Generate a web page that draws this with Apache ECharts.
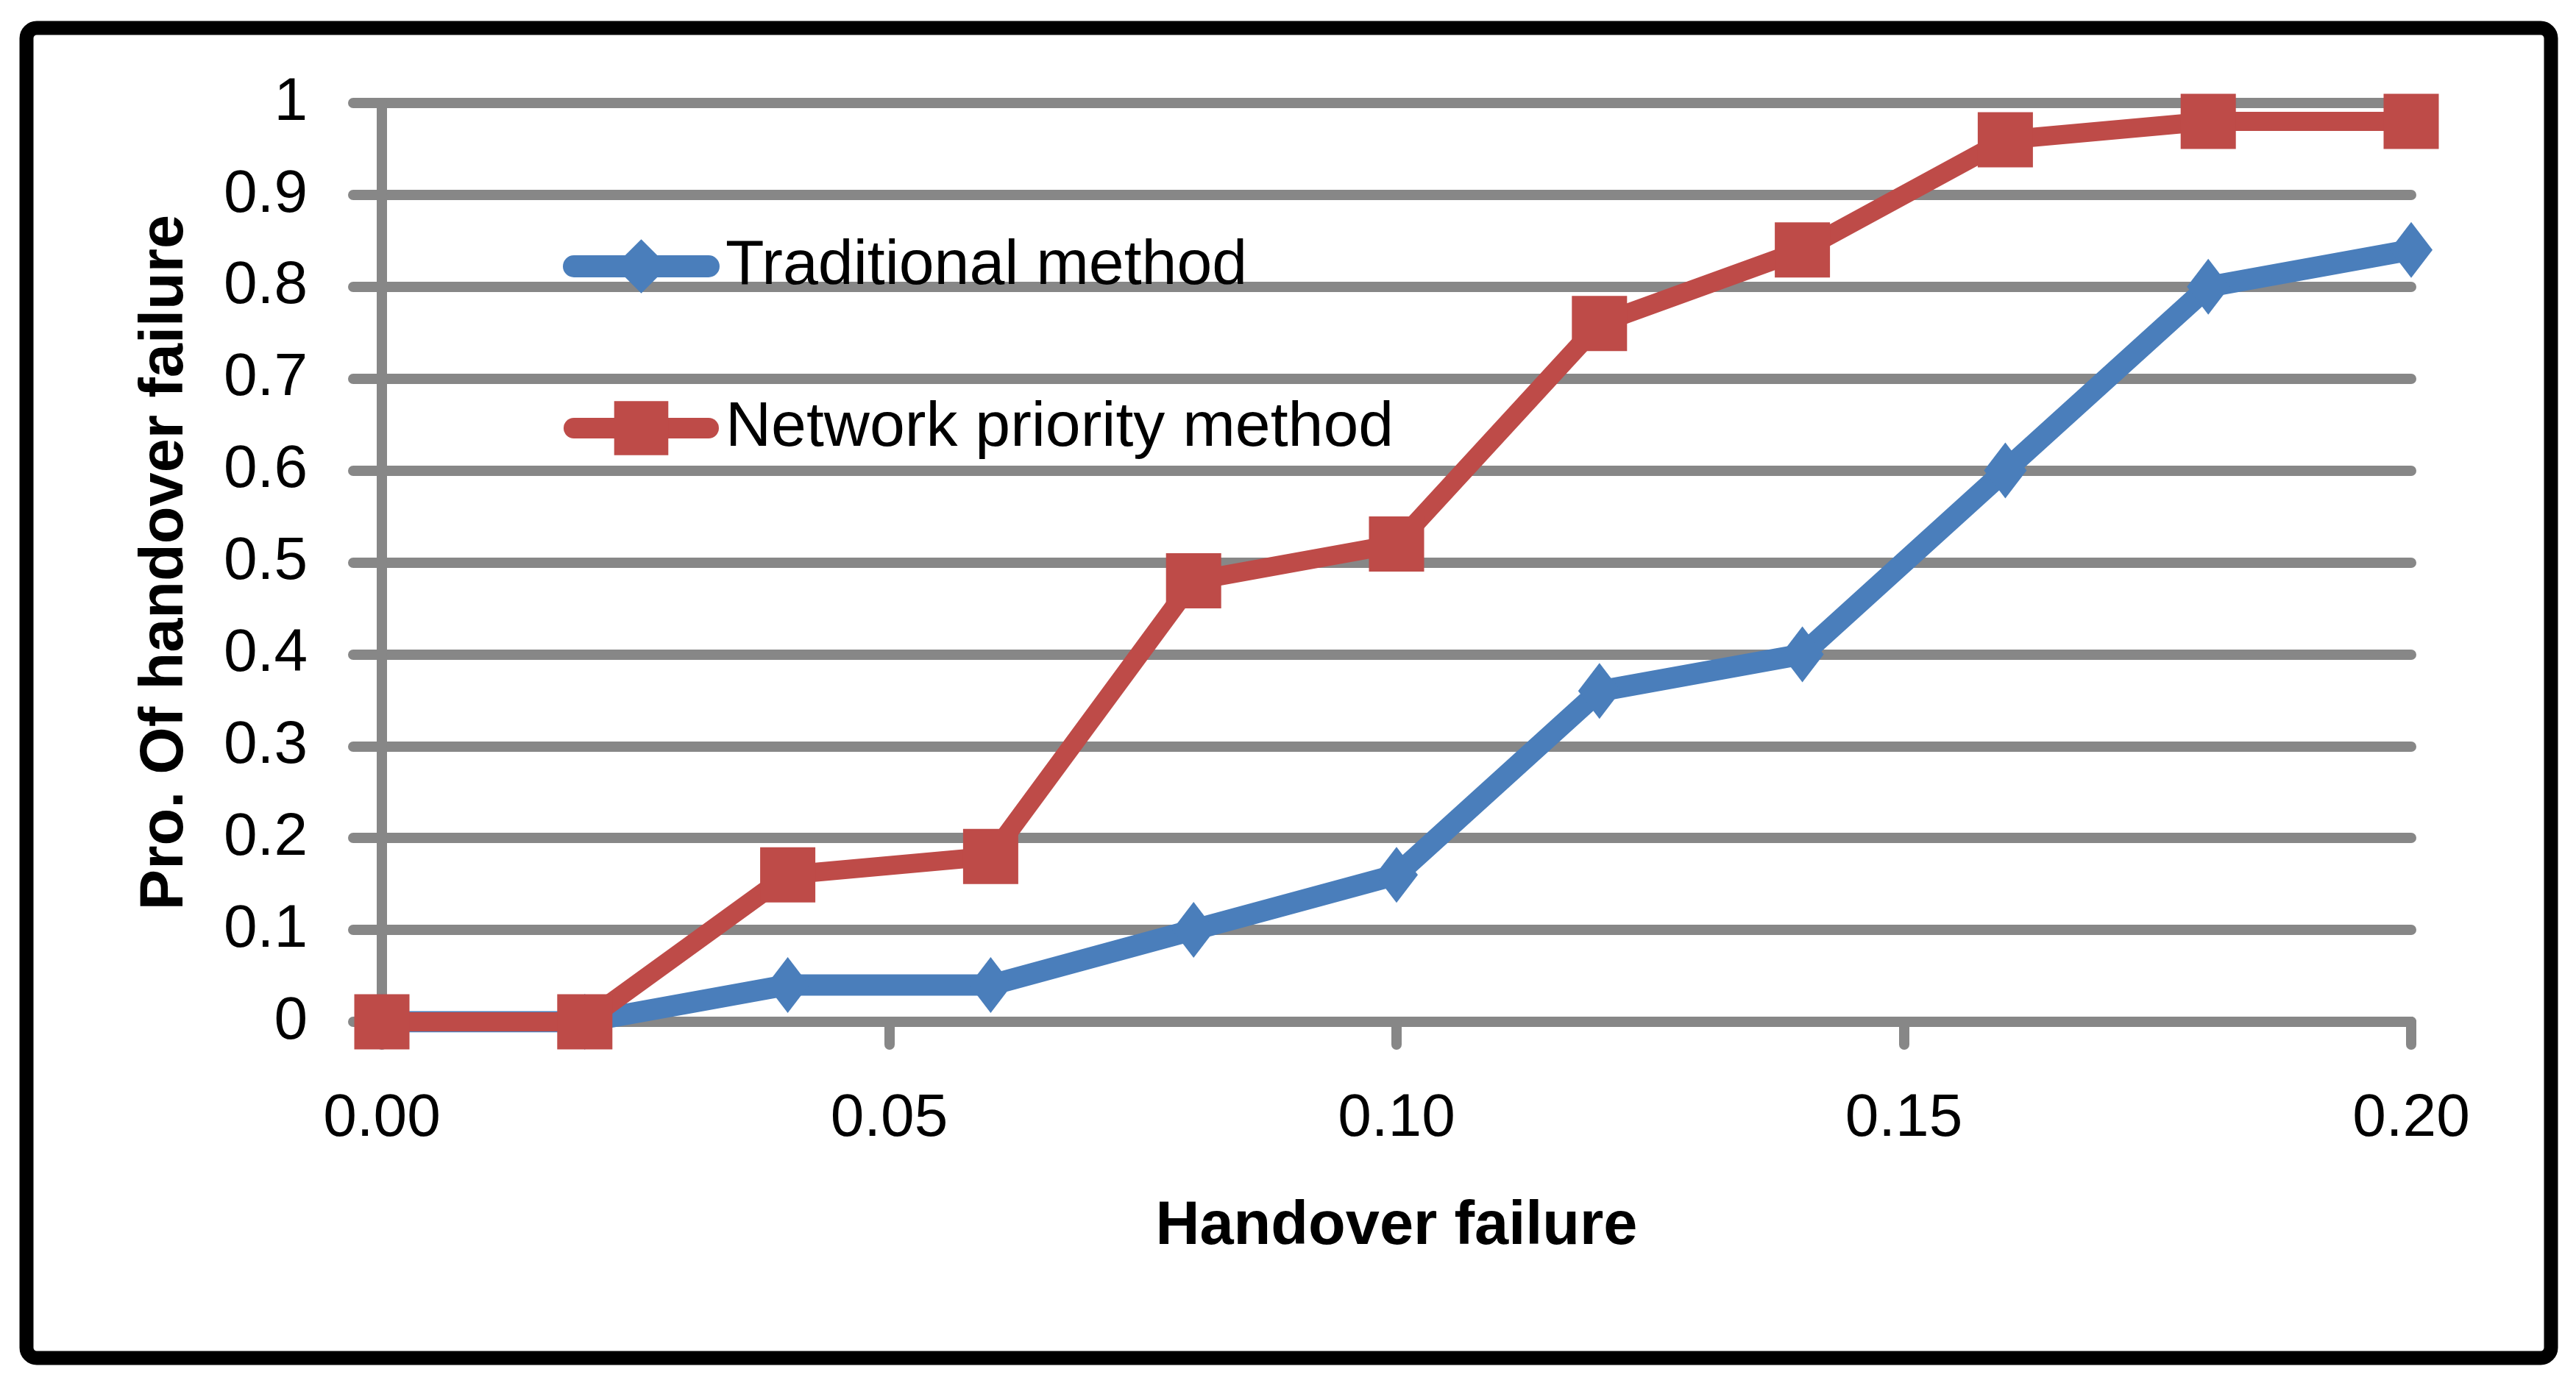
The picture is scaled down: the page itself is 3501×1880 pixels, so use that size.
<!DOCTYPE html>
<html>
<head>
<meta charset="utf-8">
<script src="https://cdn.jsdelivr.net/npm/echarts@6/dist/echarts.min.js"></script>
<style>
  html, body { margin: 0; padding: 0; background: #ffffff; }
  #chart { width: 3501px; height: 1880px; }
</style>
</head>
<body>
<div id="chart"></div>
<script>
// ---- Data ----
const xValues = [0.00, 0.02, 0.04, 0.06, 0.08, 0.10, 0.12, 0.14, 0.16, 0.18, 0.20];
const traditional = [0, 0, 0.04, 0.04, 0.10, 0.16, 0.36, 0.40, 0.60, 0.80, 0.84];
const networkPriority = [0, 0, 0.16, 0.18, 0.48, 0.52, 0.76, 0.84, 0.96, 0.98, 0.98];
const seriesNames = ['Traditional method', 'Network priority method'];
const xAxisTitle = 'Handover failure';
const yAxisTitle = 'Pro. Of handover failure';

const FONT = '"Liberation Sans", Arial, sans-serif';
const GRID_GRAY = '#878787';
const BLUE = '#4A7EBB';
const RED = '#BE4B48';

const pairs = (xs, ys) => xs.map((x, i) => [x, ys[i]]);

const chart = echarts.init(document.getElementById('chart'), null, { renderer: 'canvas' });

chart.setOption({
  backgroundColor: '#ffffff',
  animation: false,
  grid: { left: 519, right: 224, top: 140, bottom: 491, containLabel: false },
  legend: {
    orient: 'vertical',
    left: 760,
    top: 314,
    itemWidth: 183,
    itemHeight: 92,
    itemGap: 134,
    textStyle: { fontFamily: FONT, fontSize: 86, color: '#000000', padding: [0, 0, 0, 18] },
    data: [
      { name: seriesNames[0], lineStyle: { width: 30, cap: 'round', color: BLUE } },
      { name: seriesNames[1], lineStyle: { width: 28, cap: 'round', color: RED } }
    ]
  },
  xAxis: {
    type: 'value',
    min: 0,
    max: 0.2,
    interval: 0.05,
    name: xAxisTitle,
    nameLocation: 'middle',
    nameGap: 238,
    nameTextStyle: { fontFamily: FONT, fontSize: 83, fontWeight: 'bold', color: '#000000' },
    axisLine: { show: true, lineStyle: { color: GRID_GRAY, width: 14, cap: 'round' } },
    axisTick: { show: true, length: 31, lineStyle: { color: GRID_GRAY, width: 14, cap: 'round' } },
    splitLine: { show: false },
    axisLabel: {
      fontFamily: FONT, fontSize: 82, color: '#000000', margin: 91,
      formatter: v => v.toFixed(2)
    }
  },
  yAxis: {
    type: 'value',
    min: 0,
    max: 1,
    interval: 0.1,
    name: yAxisTitle,
    nameLocation: 'middle',
    nameGap: 252,
    nameTextStyle: { fontFamily: FONT, fontSize: 83, fontWeight: 'bold', color: '#000000' },
    axisLine: { show: true, lineStyle: { color: GRID_GRAY, width: 14, cap: 'round' } },
    axisTick: { show: true, length: 39, lineStyle: { color: GRID_GRAY, width: 14, cap: 'round' } },
    splitLine: { show: true, lineStyle: { color: GRID_GRAY, width: 14, cap: 'round' } },
    axisLabel: {
      fontFamily: FONT, fontSize: 82, color: '#000000', margin: 101,
      formatter: v => String(Math.round(v * 10) / 10)
    }
  },
  series: [
    {
      name: seriesNames[0],
      type: 'line',
      data: pairs(xValues, traditional),
      symbol: 'diamond',
      symbolSize: [58, 76],
      showAllSymbol: true,
      itemStyle: { color: BLUE },
      lineStyle: { color: BLUE, width: 29, join: 'miter' }
    },
    {
      name: seriesNames[1],
      type: 'line',
      data: pairs(xValues, networkPriority),
      symbol: 'rect',
      symbolSize: 75,
      showAllSymbol: true,
      itemStyle: { color: RED },
      lineStyle: { color: RED, width: 26, join: 'miter' }
    }
  ],
  graphic: [
    {
      type: 'rect',
      z: 100,
      silent: true,
      shape: { x: 36, y: 38, width: 3431, height: 1808, r: 14 },
      style: { fill: 'none', stroke: '#000000', lineWidth: 19 }
    }
  ]
});
</script>
</body>
</html>
